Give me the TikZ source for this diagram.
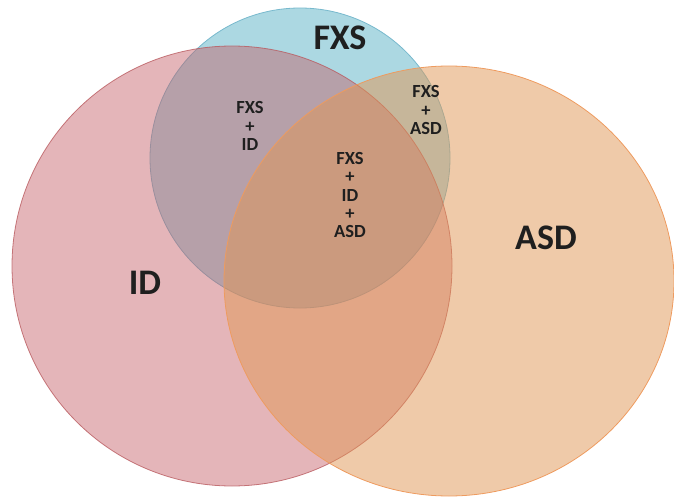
\documentclass[tikz,border=0pt]{standalone}
\usepackage{fontspec}
\setmainfont{Carlito}
\definecolor{fxscol}{RGB}{172,216,226}
\definecolor{idcol}{RGB}{196,92,100}
\definecolor{asdcol}{RGB}{224,150,84}
\definecolor{fxsline}{RGB}{120,185,205}
\definecolor{idline}{RGB}{185,90,95}
\definecolor{asdline}{RGB}{238,155,95}
\begin{document}
\begin{tikzpicture}[x=1pt,y=-1pt,
  setcirc/.style={circle,inner sep=0pt,line width=0.8pt},
  biglabel/.style={font=\fontsize{36}{36}\selectfont\bfseries,text=black!88},
  smalllabel/.style={font=\fontsize{18.5}{18.3}\selectfont\bfseries,text=black!88,align=center,inner sep=0pt}]
\useasboundingbox (0,0) rectangle (674,497);
\begin{scope}
\clip (0,0) rectangle (674,497);
\node[setcirc,minimum size=300pt,fill=fxscol,draw=fxsline] (fxs) at (300,158) {};
\node[setcirc,minimum size=440pt,fill=idcol,fill opacity=0.45,draw=idline,draw opacity=0.8] (id) at (232,266) {};
\draw[fill=asdcol,fill opacity=0.5,draw=asdline,line width=0.8pt] (449,281) ellipse [x radius=225, y radius=215];
\coordinate (asd) at (449,281);
\end{scope}
\node[biglabel] (tfxs) at (340,38) {FXS};
\node[biglabel] (tasd) at (546,238) {ASD};
\node[biglabel] (tid) at (145,283) {ID};
\node[smalllabel] (fxsid) at (250,126) {FXS\\+\\ID};
\node[smalllabel] (fxsasd) at (426,110) {FXS\\+\\ASD};
\node[smalllabel] (all) at (350,195) {FXS\\+\\ID\\+\\ASD};
\end{tikzpicture}
\end{document}
